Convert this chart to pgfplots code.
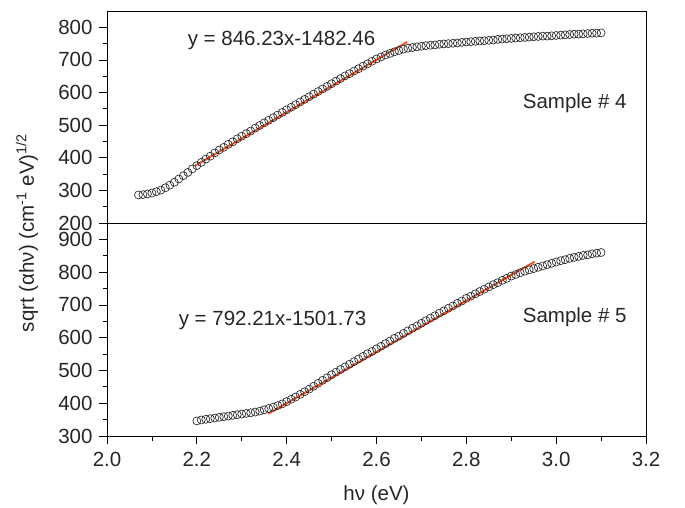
\documentclass[border=0pt]{standalone}
\usepackage{fontspec}
\setmainfont{Liberation Sans}
\usepackage{pgfplots}
\usepackage{pgfplotstable}
\pgfplotsset{compat=1.18}

\definecolor{fitred}{RGB}{240,80,35}
\newcommand{\bigf}{\fontsize{20.5}{24}\selectfont}

% sample 4 (top panel)
\pgfplotstableread{
x y
2.07 286
2.08 287
2.09 289
2.10 292
2.11 296
2.12 301
2.13 308
2.14 316
2.15 325
2.16 335
2.17 345
2.18 355
2.19 366
2.20 376
2.21 386
2.22 396
2.23 405
2.24 415
2.25 424
2.26 432
2.27 441
2.28 449
2.29 458
2.30 466
2.31 474
2.32 482
2.33 491
2.34 499
2.35 507
2.36 515
2.37 523
2.38 531
2.39 539
2.40 547
2.41 555
2.42 563
2.43 571
2.44 579
2.45 587
2.46 595
2.47 603
2.48 611
2.49 619
2.50 627
2.51 635
2.52 643
2.53 651
2.54 658
2.55 666
2.56 673
2.57 681
2.58 688
2.59 696
2.60 703
2.61 709
2.62 715
2.63 720
2.64 725
2.65 729
2.66 733
2.67 736
2.68 738
2.69 740
2.70 742
2.71 744
2.72 745
2.73 746
2.74 748
2.75 749
2.76 750
2.77 751
2.78 752
2.79 754
2.80 755
2.81 756
2.82 757
2.83 758
2.84 759
2.85 760
2.86 761
2.87 763
2.88 764
2.89 765
2.90 766
2.91 767
2.92 768
2.93 769
2.94 770
2.95 771
2.96 772
2.97 773
2.98 773
2.99 774
3.00 775
3.01 776
3.02 777
3.03 778
3.04 779
3.05 779
3.06 780
3.07 781
3.08 782
3.09 782
3.10 783
}\samplefour

% sample 5 (bottom panel)
\pgfplotstableread{
x y
2.20 346
2.21 349
2.22 351
2.23 353
2.24 355
2.25 357
2.26 359
2.27 361
2.28 363
2.29 365
2.30 367
2.31 369
2.32 371
2.33 373
2.34 376
2.35 380
2.36 384
2.37 388
2.38 393
2.39 398
2.40 405
2.41 412
2.42 419
2.43 427
2.44 435
2.45 443
2.46 452
2.47 461
2.48 470
2.49 478
2.50 487
2.51 495
2.52 503
2.53 511
2.54 519
2.55 527
2.56 535
2.57 543
2.58 551
2.59 558
2.60 566
2.61 574
2.62 582
2.63 590
2.64 598
2.65 605
2.66 613
2.67 621
2.68 629
2.69 636
2.70 644
2.71 652
2.72 660
2.73 667
2.74 675
2.75 682
2.76 690
2.77 697
2.78 705
2.79 712
2.80 720
2.81 727
2.82 734
2.83 741
2.84 748
2.85 755
2.86 762
2.87 768
2.88 775
2.89 781
2.90 788
2.91 793
2.92 798
2.93 803
2.94 807
2.95 811
2.96 815
2.97 819
2.98 823
2.99 827
3.00 831
3.01 835
3.02 838
3.03 842
3.04 845
3.05 848
3.06 851
3.07 853
3.08 856
3.09 858
3.10 860
}\samplefive

\pgfplotsset{
  panel/.style={
    scale only axis,
    width=539pt,
    xmin=2.0, xmax=3.2,
    axis line style={line width=0.9pt},
    every tick/.style={black, line width=0.8pt},
    tick align=outside,
    major tick length=8pt,
    minor tick length=4.5pt,
    ytick pos=left,
    minor y tick num=1,
    tick label style={font=\bigf, text=black!85},
    yticklabel style={xshift=-3pt, inner ysep=0pt},
    /pgf/number format/assume math mode=true,
    label style={font=\bigf, text=black!85},
  },
  datamarks/.style={only marks, mark=o, mark size=4pt,
    mark options={line width=0.65pt, draw=black!85}},
  fitline/.style={fitred, line width=1.9pt, no marks},
}

\begin{document}
\begin{tikzpicture}
\path[use as bounding box] (0,0) rectangle (685pt,507pt);

% bottom panel: sample 5
\begin{axis}[panel,
  anchor=south west, at={(107pt,71pt)},
  height=213pt,
  ymin=300, ymax=950,
  ytick={300,400,500,600,700,800,900},
  xtick={2.0,2.2,2.4,2.6,2.8,3.0,3.2},
  minor x tick num=1,
  xtick pos=bottom,
  xticklabel style={yshift=-5pt, /pgf/number format/.cd, fixed, fixed zerofill, precision=1},
  xlabel={hν (eV)},
  xlabel style={yshift=-12pt},
]
\addplot[datamarks] table[x=x,y=y] {\samplefive};
\addplot[fitline] coordinates {(2.359,368) (2.952,832)};
\node[anchor=west, font=\bigf, text=black!85] at (axis cs:2.152,653) {y = 792.21x-1501.73};
\node[anchor=west, font=\bigf, text=black!85] at (axis cs:2.918,662) {Sample \# 5};
\end{axis}

% top panel: sample 4
\begin{axis}[panel,
  anchor=south west, at={(107pt,284pt)},
  height=212pt,
  ymin=200, ymax=850,
  ytick={200,300,400,500,600,700,800},
  xtick=\empty,
]
\addplot[datamarks] table[x=x,y=y] {\samplefour};
\addplot[fitline] coordinates {(2.195,375) (2.668,755)};
\node[anchor=west, font=\bigf, text=black!85] at (axis cs:2.172,760) {y = 846.23x-1482.46};
\node[anchor=west, font=\bigf, text=black!85] at (axis cs:2.918,567) {Sample \# 4};
\end{axis}

\node[rotate=90, font=\bigf, text=black!85] at (27pt,274pt)
  {sqrt (αhν) (cm\textsuperscript{-1} eV)\textsuperscript{1/2}};
\end{tikzpicture}
\end{document}
